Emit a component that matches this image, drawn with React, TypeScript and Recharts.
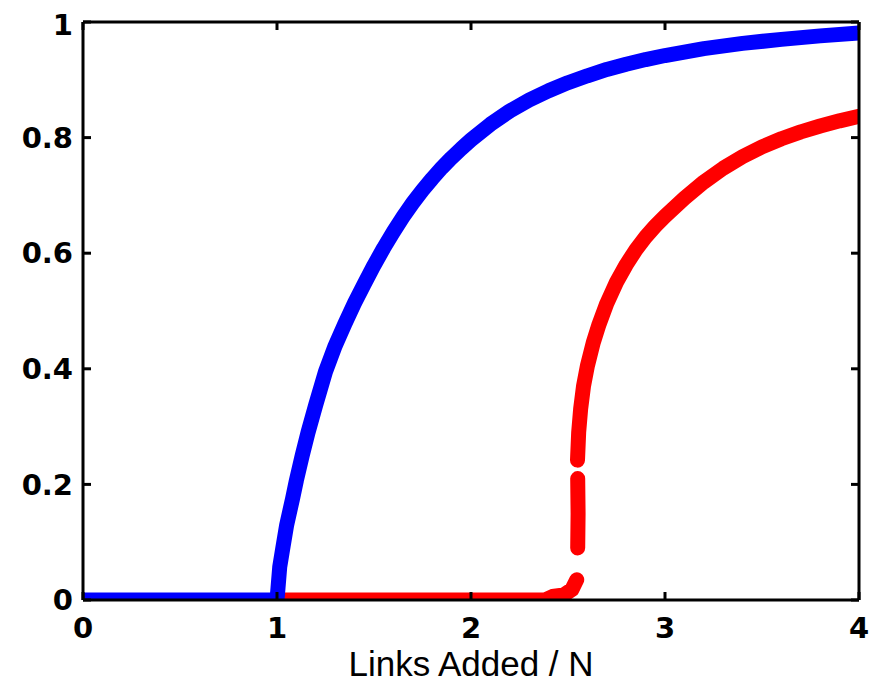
import React from 'react';
import { LineChart, Line, XAxis, YAxis } from 'recharts';

// links added per node (x) and giant component fraction (y)
const blueLinks = [0, 1.0, 1.005, 1.014, 1.03, 1.05, 1.08, 1.1, 1.13, 1.16, 1.2, 1.25, 1.3, 1.35, 1.4, 1.45, 1.5, 1.55, 1.6, 1.65, 1.7, 1.75, 1.8, 1.85, 1.9, 1.95, 2.0, 2.1, 2.2, 2.3, 2.4, 2.5, 2.6, 2.7, 2.8, 2.9, 3.0, 3.2, 3.4, 3.6, 3.8, 4.0];
const blueSize = [0, 0, 0.02, 0.057, 0.09, 0.13, 0.175, 0.207, 0.25, 0.29, 0.338, 0.395, 0.44, 0.478, 0.514, 0.547, 0.579, 0.609, 0.637, 0.663, 0.687, 0.709, 0.729, 0.748, 0.765, 0.781, 0.796, 0.823, 0.846, 0.865, 0.881, 0.895, 0.907, 0.918, 0.927, 0.935, 0.942, 0.954, 0.963, 0.97, 0.976, 0.981];

// null = gap in the red markers
const redLinks = [1.0, 2.38, 2.42, 2.48, 2.52, 2.545, 2.547, 2.55, 2.552, 2.55, 2.549, 2.549, 2.555, 2.565, 2.58, 2.6, 2.63, 2.66, 2.7, 2.75, 2.8, 2.85, 2.9, 2.95, 3.0, 3.1, 3.2, 3.3, 3.4, 3.5, 3.6, 3.7, 3.8, 3.9, 4.0];
const redSize = [0, 0, 0.006, 0.009, 0.018, 0.035, null, 0.09, 0.15, 0.21, null, 0.242, 0.29, 0.33, 0.37, 0.405, 0.445, 0.477, 0.513, 0.55, 0.58, 0.606, 0.628, 0.647, 0.664, 0.695, 0.723, 0.747, 0.767, 0.784, 0.798, 0.81, 0.82, 0.829, 0.837];

const xTicks = [0, 1, 2, 3, 4];
const yTicks = [0, 0.2, 0.4, 0.6, 0.8, 1];
const yTickLabels = ['0', '0.2', '0.4', '0.6', '0.8', '1'];

const blueData = blueLinks.map((x, i) => ({ x, y: blueSize[i] }));
const redData = redLinks.map((x, i) => ({ x, y: redSize[i] }));

const tickFont = { fill: '#000', fontSize: 29, fontWeight: 'bold', fontFamily: 'DejaVu Sans, Verdana, sans-serif' };
const axisLine = { stroke: '#000', strokeWidth: 3 };
const tickLine = { stroke: '#000', strokeWidth: 3 };

const App: React.FC = () => {
  return (
    <LineChart width={870} height={676} margin={{ top: 13, right: 18, bottom: 0, left: 0 }}>
      <XAxis
        xAxisId="b"
        dataKey="x"
        type="number"
        domain={[0, 4]}
        ticks={xTicks}
        allowDataOverflow
        height={84}
        axisLine={axisLine}
        tickLine={tickLine}
        tickSize={-8}
        tickMargin={25}
        tick={tickFont}
        label={{
          value: 'Links Added / N',
          position: 'insideBottom',
          offset: 8,
          fill: '#000',
          fontSize: 35,
          fontFamily: 'Liberation Sans, Arial, sans-serif',
        }}
      />
      <XAxis
        xAxisId="t"
        orientation="top"
        dataKey="x"
        type="number"
        domain={[0, 4]}
        ticks={xTicks}
        allowDataOverflow
        height={1}
        axisLine={axisLine}
        tickLine={tickLine}
        tickSize={-8}
        tickFormatter={() => ''}
      />
      <YAxis
        yAxisId="l"
        type="number"
        domain={[0, 1]}
        ticks={yTicks}
        allowDataOverflow
        width={75}
        axisLine={axisLine}
        tickLine={tickLine}
        tickSize={-8}
        tickMargin={18}
        tick={tickFont}
        tickFormatter={(v: number) => yTickLabels[yTicks.indexOf(v)] ?? String(v)}
      />
      <YAxis
        yAxisId="r"
        orientation="right"
        type="number"
        domain={[0, 1]}
        ticks={yTicks}
        allowDataOverflow
        width={1}
        axisLine={axisLine}
        tickLine={tickLine}
        tickSize={-8}
        tickFormatter={() => ''}
      />
      {/* invisible series so the mirrored top/right axes are drawn */}
      <Line
        xAxisId="t"
        yAxisId="r"
        data={blueData}
        dataKey="y"
        stroke="none"
        dot={false}
        activeDot={false}
        isAnimationActive={false}
      />
      <Line
        xAxisId="b"
        yAxisId="l"
        data={redData}
        dataKey="y"
        type="linear"
        stroke="#ff0000"
        strokeWidth={15}
        strokeLinecap="round"
        strokeLinejoin="round"
        dot={false}
        activeDot={false}
        connectNulls={false}
        isAnimationActive={false}
      />
      <Line
        xAxisId="b"
        yAxisId="l"
        data={blueData}
        dataKey="y"
        type="linear"
        stroke="#0000ff"
        strokeWidth={15}
        strokeLinecap="round"
        strokeLinejoin="round"
        dot={false}
        activeDot={false}
        isAnimationActive={false}
      />
    </LineChart>
  );
};

export default App;
